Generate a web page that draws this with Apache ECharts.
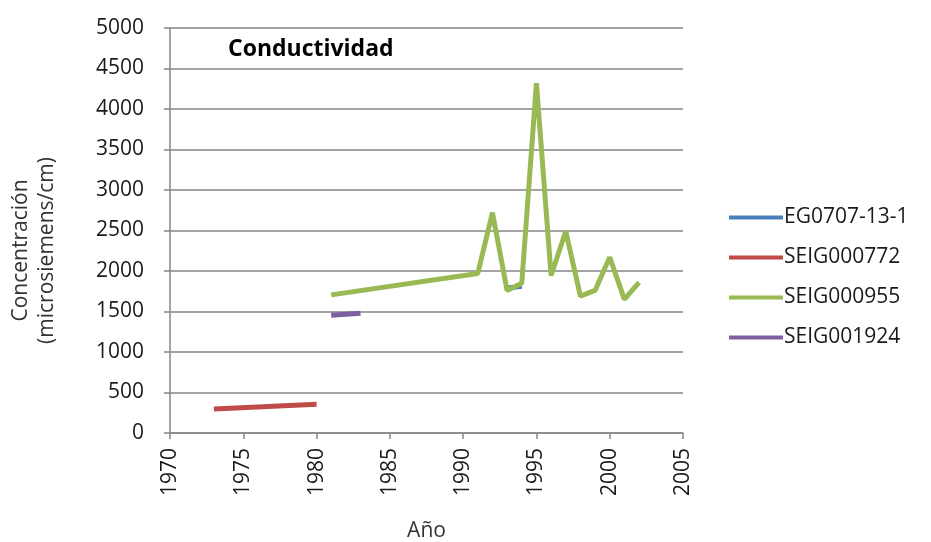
<!DOCTYPE html>
<html>
<head>
<meta charset="utf-8">
<script src="https://cdn.jsdelivr.net/npm/echarts@6/dist/echarts.min.js"></script>
<style>
html, body { margin: 0; padding: 0; background: #fff; }
#conductividad { width: 931px; height: 542px; }
</style>
</head>
<body>
<div id="conductividad"></div>
<script>
// datos (año, microsiemens/cm)
var nombres = ['EG0707-13-1', 'SEIG000772', 'SEIG000955', 'SEIG001924'];
var colores = ['#4a7ebb', '#be4b48', '#98b954', '#7d60a0'];

var eg0707 = [[1993, 1790], [1994, 1810]];
var seig772 = [[1973, 295], [1980, 355]];
var seig955 = [
	[1981, 1705], [1991, 1970], [1992, 2720], [1993, 1760], [1994, 1850],
	[1995, 4320], [1996, 1945], [1997, 2490], [1998, 1690], [1999, 1760],
	[2000, 2170], [2001, 1650], [2002, 1860]
];
var seig1924 = [[1981, 1455], [1983, 1478]];

var anios = [1970, 1975, 1980, 1985, 1990, 1995, 2000, 2005];
var valoresY = [0, 500, 1000, 1500, 2000, 2500, 3000, 3500, 4000, 4500, 5000];

var myChart = echarts.init(document.getElementById('conductividad'));

var fuente = '"Open Sans", "Liberation Sans", sans-serif';

function serie(i, datos) {
	return {
		name: nombres[i],
		type: 'line',
		data: datos,
		showSymbol: false,
		symbol: 'none',
		lineStyle: { color: colores[i], width: 5 },
		itemStyle: { color: colores[i] }
	};
}

option = {
	animation: false,
	backgroundColor: '#fff',
	color: colores,
	title: {
		text: 'Conductividad',
		left: 223,
		top: 33,
		textStyle: { fontFamily: fuente, fontSize: 23, fontWeight: 'bold', color: '#000' }
	},
	legend: {
		orient: 'vertical',
		left: 724,
		top: 198,
		itemWidth: 54,
		itemHeight: 4,
		itemGap: 11,
		icon: 'rect',
		textStyle: { fontFamily: fuente, fontSize: 21, color: '#1a1a1a', lineHeight: 29, padding: [0, 0, 0, -4] },
		data: nombres.map(function (n, i) {
			return { name: n, itemStyle: { color: colores[i] } };
		})
	},
	grid: {
		left: 170,
		right: 248,
		top: 28,
		bottom: 109,
		containLabel: false,
		outerBoundsMode: 'none'
	},
	xAxis: {
		type: 'value',
		min: anios[0],
		max: anios[anios.length - 1],
		interval: 5,
		name: 'Año',
		nameLocation: 'middle',
		nameGap: 88,
		nameTextStyle: { fontFamily: fuente, fontSize: 21, color: '#333' },
		axisLine: { show: true, lineStyle: { color: '#868686', width: 1.5 } },
		axisTick: { show: true, length: 6, lineStyle: { color: '#868686', width: 1.5 } },
		splitLine: { show: false },
		axisLabel: {
			rotate: 90,
			margin: 15,
			fontFamily: fuente,
			fontSize: 21,
			color: '#1a1a1a',
			formatter: function (v) { return anios.indexOf(v) >= 0 ? String(v) : ''; }
		}
	},
	yAxis: {
		type: 'value',
		min: valoresY[0],
		max: valoresY[valoresY.length - 1],
		interval: 500,
		name: 'Concentración\n(microsiemens/cm)',
		nameLocation: 'middle',
		nameGap: 110,
		nameRotate: 90,
		nameTextStyle: { fontFamily: fuente, fontSize: 21, color: '#333', lineHeight: 26, padding: [0, 40, 0, 0] },
		axisLine: { show: true, lineStyle: { color: '#868686', width: 1.5 } },
		axisTick: { show: true, length: 6, lineStyle: { color: '#868686', width: 1.5 } },
		splitLine: { show: true, lineStyle: { color: '#868686', width: 1.5 } },
		axisLabel: {
			margin: 26,
			fontFamily: fuente,
			fontSize: 21,
			color: '#1a1a1a',
			formatter: function (v) { return String(v); }
		}
	},
	series: [
		serie(0, eg0707),
		serie(1, seig772),
		serie(2, seig955),
		serie(3, seig1924)
	]
};

myChart.setOption(option);
</script>
</body>
</html>
